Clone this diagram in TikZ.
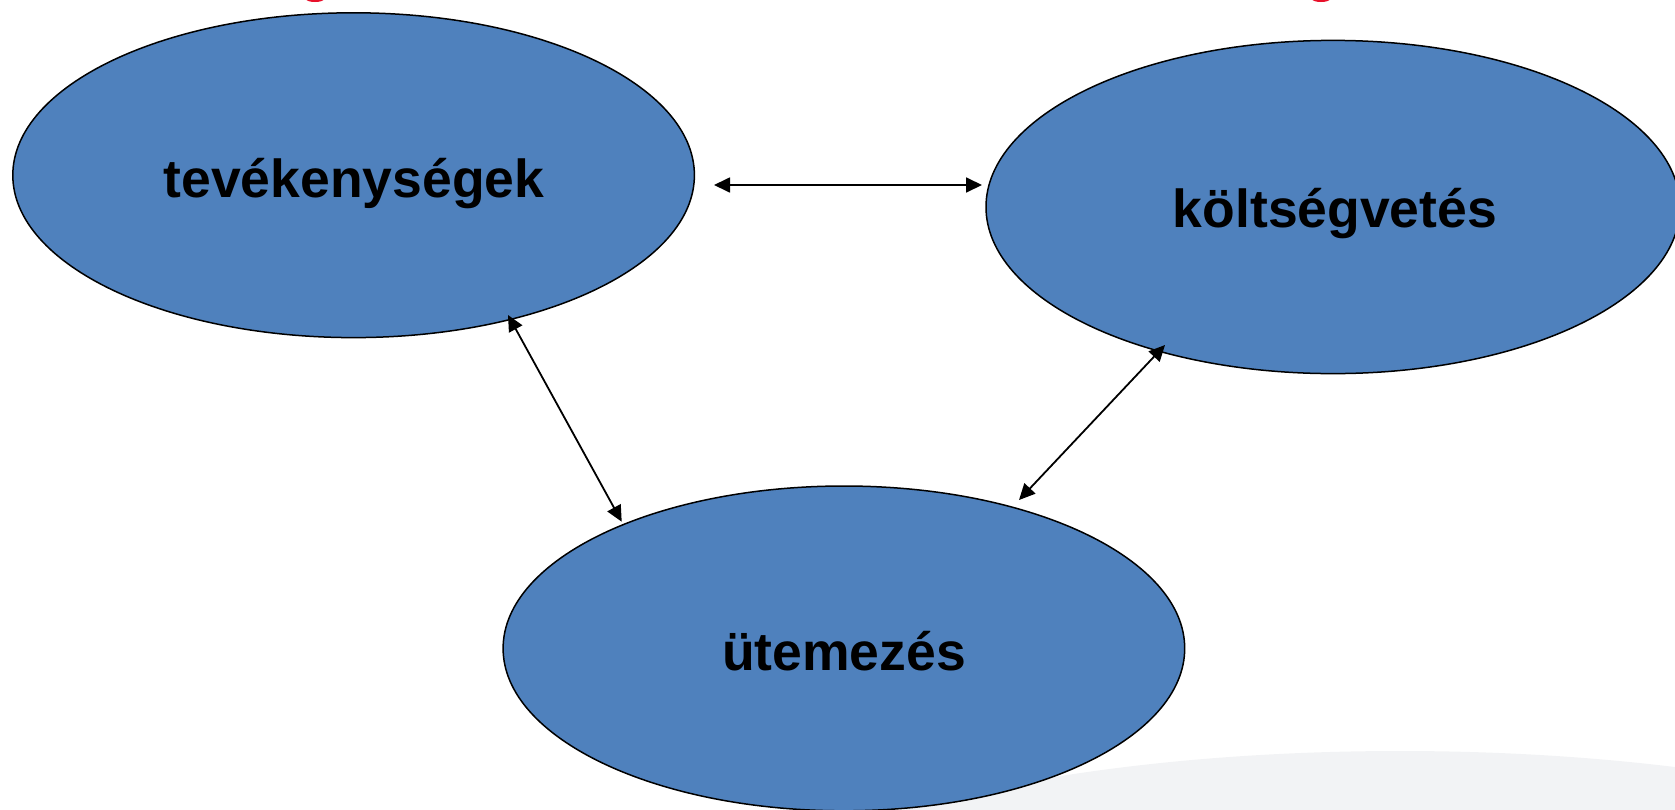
\documentclass[tikz,border=0pt]{standalone}
\usepackage{fontspec}
\setmainfont{Liberation Sans}
\usetikzlibrary{shapes.geometric,arrows.meta}
\definecolor{bluefill}{HTML}{4F81BD}
\definecolor{bggray}{HTML}{F2F3F5}
\definecolor{redmark}{HTML}{E8102A}
\tikzset{
  blob/.style={ellipse, draw=black, line width=1.5pt, fill=bluefill, inner sep=0pt},
  lbl/.style={anchor=base, inner sep=0pt, font=\fontsize{53.5}{60}\selectfont\bfseries},
  arr/.style={line width=1.8pt, {Triangle[length=16pt,width=15pt]}-{Triangle[length=16pt,width=15pt]}}
}
\begin{document}
\begin{tikzpicture}[x=1pt,y=-1pt]
\useasboundingbox (0,0) rectangle (1675,809);
\clip (0,0) rectangle (1675,809);
% background gray shape
\fill[bggray] (1400,951) ellipse [x radius=700, y radius=200];
% red fragments at top edge
\fill[redmark] (315,-1) ellipse [x radius=9, y radius=3];
\fill[redmark] (1321,-1) ellipse [x radius=9, y radius=3];
% ellipses
\node[blob, minimum width=681.6pt, minimum height=324.8pt] (e1) at (353.6,175.2) {};
\node[blob, minimum width=694pt, minimum height=333.2pt] (e2) at (1333,207) {};
\node[blob, minimum width=681.6pt, minimum height=324.8pt] (e3) at (843.9,648.4) {};
% labels
\node[lbl] (t1) at (354,197) {tevékenységek};
\node[lbl] (t2) at (1335,227) {költségvetés};
\node[lbl] (t3) at (844,670) {ütemezés};
% connector ends
\coordinate (a1) at (714,185);
\coordinate (a2) at (982,185);
\coordinate (b1) at (508,315);
\coordinate (b2) at (621.7,521.7);
\coordinate (c1) at (1165,345);
\coordinate (c2) at (1019,500);
\draw[arr] (a1) -- (a2);
\draw[arr] (b1) -- (b2);
\draw[arr] (c1) -- (c2);
\end{tikzpicture}
\end{document}
